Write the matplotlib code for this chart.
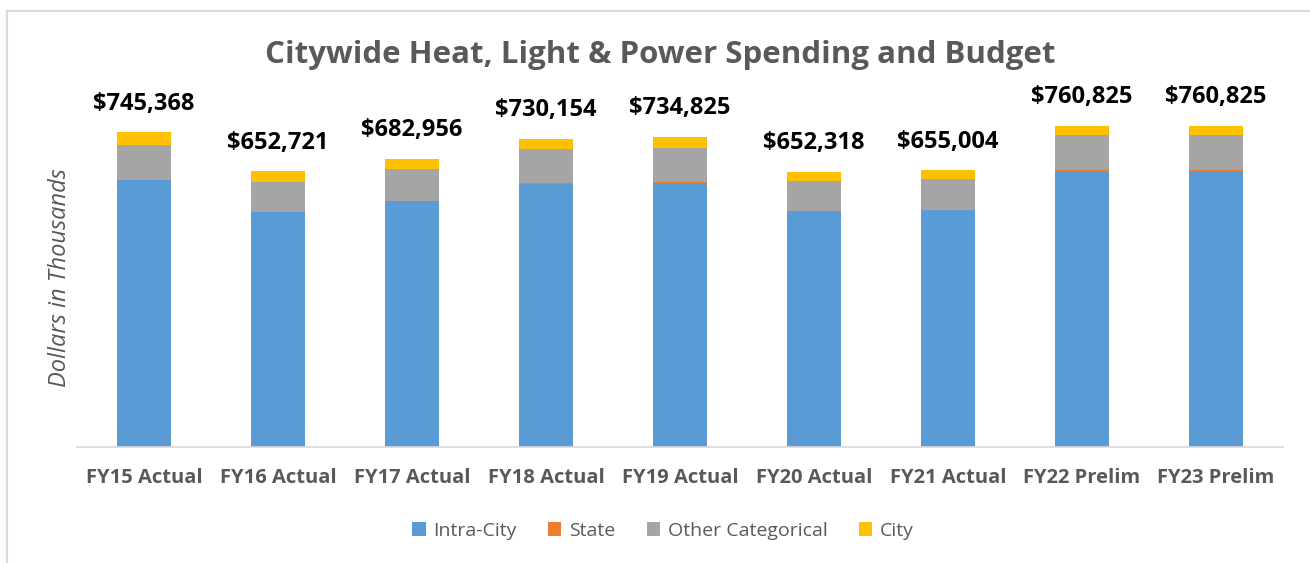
import matplotlib
matplotlib.use("Agg")
import matplotlib.pyplot as plt
from matplotlib.lines import Line2D
from matplotlib.patches import Patch
import numpy as np

categories = ["FY15 Actual", "FY16 Actual", "FY17 Actual", "FY18 Actual", "FY19 Actual",
              "FY20 Actual", "FY21 Actual", "FY22 Prelim", "FY23 Prelim"]
totals = [745368, 652721, 682956, 730154, 734825, 652318, 655004, 760825, 760825]
intra_city = [632300, 557200, 583200, 622100, 625900, 558100, 561200, 654300, 654300]
state = [0, 0, 0, 3500, 1700, 0, 0, 1000, 1000]
other_categorical = [83600, 70300, 74400, 79100, 81200, 72500, 73400, 83800, 83800]
city = [t - a - s - o for t, a, s, o in zip(totals, intra_city, state, other_categorical)]
labels = ["$" + format(t, ",") for t in totals]

series = [("Intra-City", intra_city, "#5B9BD5"),
          ("State", state, "#ED7D31"),
          ("Other Categorical", other_categorical, "#A5A5A5"),
          ("City", city, "#FFC000")]

W, H = 1310, 563
fig = plt.figure(figsize=(W / 100, H / 100), dpi=100)
fig.patch.set_facecolor("white")

ymax = 850000
px_per = 2368.0
ax_h_px = ymax / px_per
ax = fig.add_axes([77 / W, (H - 447) / H, (1283 - 77) / W, ax_h_px / H])

x = np.arange(len(categories))
bottom = np.zeros(len(categories))
for name, vals, col in series:
    ax.bar(x, vals, width=0.4, bottom=bottom, color=col, edgecolor="none", label=name)
    bottom += np.array(vals)

for xi, t, lab in zip(x, totals, labels):
    ax.annotate(lab, (xi, t), xytext=(0, 12), textcoords="offset points",
                ha="center", va="bottom", fontsize=17, fontweight="bold",
                color="black", family="Open Sans")

ax.set_xlim(-0.5, len(categories) - 0.5)
ax.set_ylim(0, ymax)
ax.set_yticks([])
for s in ["top", "right", "left"]:
    ax.spines[s].set_visible(False)
ax.spines["bottom"].set_color("#D9D9D9")
ax.spines["bottom"].set_linewidth(1.2)
ax.set_xticks(x)
ax.set_xticklabels(categories, fontsize=14.5, fontweight="bold", color="#595959", family="Open Sans")
ax.tick_params(axis="x", length=0, pad=15)

fig.text(60 / W, 1 - 278 / H, "Dollars in Thousands", rotation=90, ha="center", va="center",
         fontsize=17, style="italic", color="#595959", family="Open Sans")

fig.text(660 / W, 1 - 55 / H, "Citywide Heat, Light & Power Spending and Budget",
         ha="center", va="center", fontsize=22.5, fontweight="bold", color="#595959",
         family="Open Sans")

handles = [Patch(facecolor=c, edgecolor="none") for _, _, c in series]
leg = fig.legend(handles, [n for n, _, _ in series], loc="center", bbox_to_anchor=(663 / W, 1 - 531 / H),
                 ncol=4, frameon=False, handlelength=0.7, handleheight=0.7, handletextpad=0.4,
                 columnspacing=1.6, prop={"family": "Open Sans", "size": 14})
for t in leg.get_texts():
    t.set_color("#595959")

fig.add_artist(Line2D([7 / W, 1], [1 - 10.5 / H, 1 - 10.5 / H], transform=fig.transFigure,
                      color="#D9D9D9", lw=1.5))
fig.add_artist(Line2D([7 / W, 7 / W], [0, 1 - 10.5 / H], transform=fig.transFigure,
                      color="#D9D9D9", lw=1.5))

fig.savefig("out.png", dpi=100, facecolor="white")
